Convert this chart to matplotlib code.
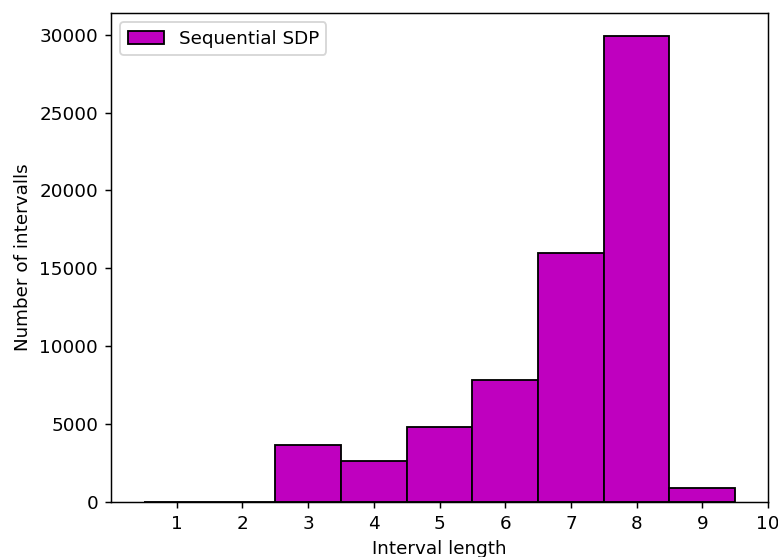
import matplotlib
matplotlib.use("Agg")
import matplotlib.pyplot as plt

lengths = [1, 2, 3, 4, 5, 6, 7, 8, 9]
counts = [5, 5, 3650, 2630, 4830, 7820, 15960, 29900, 920]
xticks = list(range(1, 11))

DPI = 132
fig = plt.figure(figsize=(778 / DPI, 557 / DPI), dpi=DPI)
ax = fig.add_axes([111/778, 1 - 502/557, (768 - 111)/778, (502 - 13)/557])
ax.bar(lengths, counts, width=1.0, color="m", edgecolor="black", label="Sequential SDP")
ax.set_xticks(xticks)
ax.set_xlim(0, 10)
ax.set_xlabel("Interval length")
ax.set_ylabel("Number of intervalls")
ax.legend(loc="upper left")
fig.savefig("out.png", dpi=DPI)
